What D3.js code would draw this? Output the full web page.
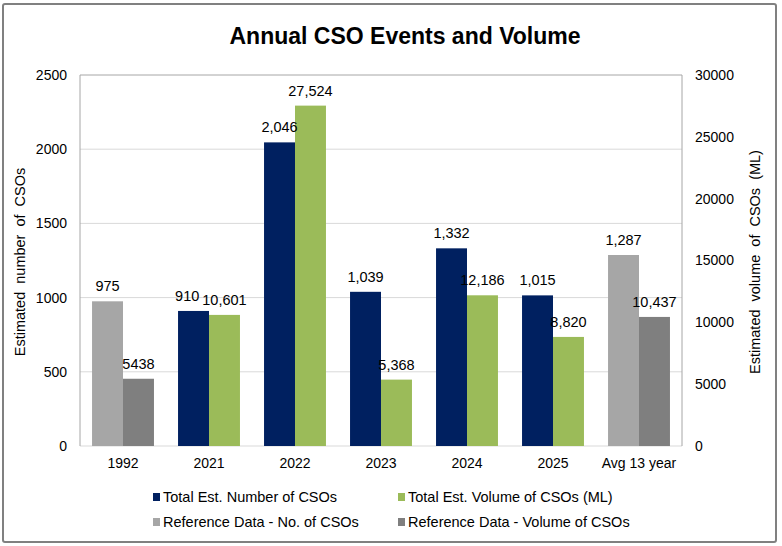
<!DOCTYPE html>
<head>
<meta charset="utf-8">
<title>Annual CSO Events and Volume</title>
<style>
body { margin: 0; background: #fff; }
text { font-family: "Liberation Sans", Arial, sans-serif; fill: #000; }
.bar-label { font-size: 14.5px; }
.legend text { font-size: 14.5px; }
</style>
</head>
<body>
<script src="https://cdn.jsdelivr.net/npm/d3@7"></script>
<script>

// chart values
var categories = ["1992", "2021", "2022", "2023", "2024", "2025", "Avg 13 year"];
var counts = [975, 910, 2046, 1039, 1332, 1015, 1287];
var volumes = [5438, 10601, 27524, 5368, 12186, 8820, 10437];
// which groups are reference data (grey bars)
var isReference = [true, false, false, false, false, false, true];
// groups whose labels are shown without thousands separator
var plainLabels = ["1992"];
var countTicks = [0, 500, 1000, 1500, 2000, 2500];
var volumeTicks = [0, 5000, 10000, 15000, 20000, 25000, 30000];
var legendNames = ["Total Est. Number of CSOs", "Total Est. Volume of CSOs (ML)",
                   "Reference Data - No. of CSOs", "Reference Data - Volume of CSOs"];

var width = 782, height = 546;
var colors = {count: "#002060", volume: "#9bbb59", refCount: "#a6a6a6", refVolume: "#7f7f7f"};
var legendColors = [colors.count, colors.volume, colors.refCount, colors.refVolume];

// plot area (window.top is reserved, so not called "top")
var plotLeft = 80, plotRight = 682, plotTop = 75, plotBottom = 446;

var svg = d3.select("body").append("svg")
    .attr("width", width)
    .attr("height", height);

// outer frame
svg.append("rect")
    .attr("x", 3).attr("y", 4)
    .attr("width", 773).attr("height", 538)
    .attr("rx", 2)
    .attr("fill", "#fff")
    .attr("stroke", "#808080")
    .attr("stroke-width", 2);

svg.append("text")
    .attr("x", 405).attr("y", 44)
    .attr("text-anchor", "middle")
    .style("font-size", "23px")
    .style("font-weight", "bold")
    .text("Annual CSO Events and Volume");

var x = d3.scaleBand()
    .domain(categories)
    .range([plotLeft, plotRight])
    .paddingInner(0.28)
    .paddingOuter(0.14);

var xSub = d3.scaleBand()
    .domain(["count", "volume"])
    .range([0, x.bandwidth()]);

var yCount = d3.scaleLinear().domain([0, 2500]).range([plotBottom, plotTop]);
var yVolume = d3.scaleLinear().domain([0, 30000]).range([plotBottom, plotTop]);

// gridlines
svg.append("g")
    .selectAll("line")
    .data(countTicks.slice(0, -1))
    .enter().append("line")
    .attr("x1", plotLeft).attr("x2", plotRight)
    .attr("y1", function(d) { return yCount(d); })
    .attr("y2", function(d) { return yCount(d); })
    .attr("stroke", "#d9d9d9")
    .attr("stroke-width", 1);

// plot area border (left, top, right)
svg.append("path")
    .attr("d", "M" + plotLeft + "," + plotBottom + "V" + plotTop + "H" + plotRight + "V" + plotBottom)
    .attr("fill", "none")
    .attr("stroke", "#a6a6a6")
    .attr("stroke-width", 1);

var rows = categories.map(function(c, i) {
  return {cat: c, count: counts[i], volume: volumes[i], ref: isReference[i]};
});

var group = svg.append("g")
    .selectAll("g")
    .data(rows)
    .enter().append("g")
    .attr("transform", function(d) { return "translate(" + x(d.cat) + ",0)"; });

function fmt(d) {
  return plainLabels.indexOf(d.cat) >= 0 ? d3.format("d") : d3.format(",");
}

// count bars
group.append("rect")
    .attr("x", xSub("count"))
    .attr("width", xSub.bandwidth())
    .attr("y", function(d) { return yCount(d.count); })
    .attr("height", function(d) { return plotBottom - yCount(d.count); })
    .attr("fill", function(d) { return d.ref ? colors.refCount : colors.count; });

// volume bars
group.append("rect")
    .attr("x", xSub("volume"))
    .attr("width", xSub.bandwidth())
    .attr("y", function(d) { return yVolume(d.volume); })
    .attr("height", function(d) { return plotBottom - yVolume(d.volume); })
    .attr("fill", function(d) { return d.ref ? colors.refVolume : colors.volume; });

// value labels
var countLabel = group.append("text")
    .attr("class", "bar-label")
    .attr("text-anchor", "middle")
    .attr("x", xSub("count") + xSub.bandwidth() / 2)
    .attr("y", function(d) { return yCount(d.count) - 10; })
    .text(function(d) { return fmt(d)(d.count); });

var volumeLabel = group.append("text")
    .attr("class", "bar-label")
    .attr("text-anchor", "middle")
    .attr("x", xSub("volume") + xSub.bandwidth() / 2)
    .attr("y", function(d) { return yVolume(d.volume) - 10; })
    .text(function(d) { return fmt(d)(d.volume); });

// push the count label left when it runs into the volume label (like 910 / 10,601)
countLabel.each(function(d, i) {
  var a = this.getBBox(), b = volumeLabel.nodes()[i].getBBox();
  var overlapX = a.x + a.width + 3 - b.x;
  if (Math.abs(a.y - b.y) < a.height && overlapX > 0) {
    d3.select(this).attr("x", +d3.select(this).attr("x") - overlapX);
  }
});

// left axis
var leftAxis = svg.append("g")
    .attr("transform", "translate(" + plotLeft + ",0)")
    .call(d3.axisLeft(yCount).tickValues(countTicks).tickFormat(d3.format("d")).tickSize(0).tickPadding(13));
leftAxis.select(".domain").remove();

// right axis
var rightAxis = svg.append("g")
    .attr("transform", "translate(" + plotRight + ",0)")
    .call(d3.axisRight(yVolume).tickValues(volumeTicks).tickFormat(d3.format("d")).tickSize(0).tickPadding(13));
rightAxis.select(".domain").remove();

// bottom axis
var bottomAxis = svg.append("g")
    .attr("transform", "translate(0," + plotBottom + ")")
    .call(d3.axisBottom(x).tickSize(0).tickPadding(12));
bottomAxis.select(".domain").remove();

svg.selectAll(".tick text")
    .attr("fill", "#000")
    .style("font-family", "\"Liberation Sans\", Arial, sans-serif")
    .style("font-size", "14px");

// axis titles
svg.append("text")
    .attr("transform", "translate(25,262) rotate(-90)")
    .attr("text-anchor", "middle")
    .style("font-size", "14.5px")
    .style("word-spacing", "4px")
    .text("Estimated number of CSOs");

svg.append("text")
    .attr("transform", "translate(760,262) rotate(-90)")
    .attr("text-anchor", "middle")
    .style("font-size", "14.5px")
    .style("word-spacing", "4px")
    .text("Estimated volume of CSOs (ML)");

// legend
var legendPos = [[153, 497], [398, 497], [153, 522], [398, 522]];
var legend = svg.append("g")
    .attr("class", "legend")
    .selectAll("g")
    .data(legendNames)
    .enter().append("g")
    .attr("transform", function(d, i) { return "translate(" + legendPos[i][0] + "," + legendPos[i][1] + ")"; });

legend.append("rect")
    .attr("x", 0).attr("y", -4)
    .attr("width", 7).attr("height", 8)
    .attr("fill", function(d, i) { return legendColors[i]; });

legend.append("text")
    .attr("x", 10).attr("y", 5)
    .text(function(d) { return d; });

</script>
</body>
</html>
